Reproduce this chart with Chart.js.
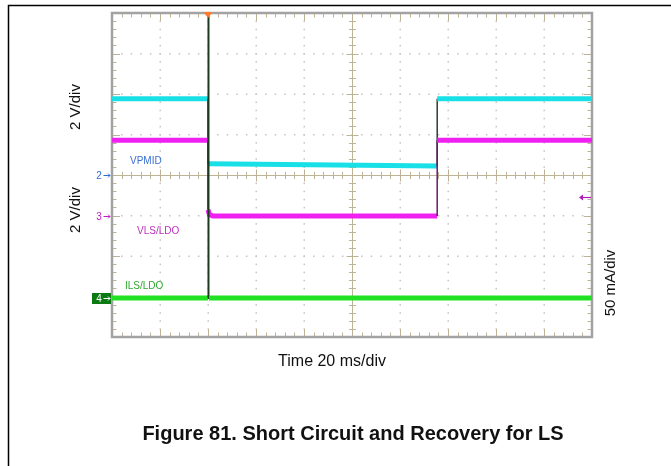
<!DOCTYPE html>
<html>
<head>
<meta charset="utf-8">
<script src="https://cdn.jsdelivr.net/npm/chart.js@4.4.0/dist/chart.umd.min.js"></script>
<style>
html, body { margin: 0; padding: 0; background: #fff; }
#wrap { position: relative; width: 671px; height: 466px; overflow: hidden; }
#scope { position: absolute; left: 0; top: 0; }
</style>
</head>
<body>
<div id="wrap"><canvas id="scope" width="671" height="466"></canvas></div>
<script>
// time in ms (20 ms/div, 10 div), vertical in screen divisions (8 div)
const timeRange = [0, 200];
const divRange = [0, 8];
const majorTime = [0, 20, 40, 60, 80, 100, 120, 140, 160, 180, 200];
const majorDiv = [0, 1, 2, 3, 4, 5, 6, 7, 8];

// traces
const vpmidTime = [0, 40, 40, 135.5, 135.5, 200];
const vpmidDiv = [5.88, 5.88, 4.28, 4.22, 5.88, 5.88];

const vlsldoTime = [0, 40, 40, 40.6, 42, 135.5, 135.5, 200];
const vlsldoDiv = [4.86, 4.86, 3.14, 3.02, 2.99, 2.99, 4.86, 4.86];

const ilsldoTime = [0, 40, 40, 40.4, 200];
const ilsldoDiv = [0.96, 0.96, 8, 0.96, 0.96];

// channel ground markers and labels
const markerNames = ['2', '3', '4'];
const markerDiv = [4, 3, 0.96];
const traceNames = ['VPMID', 'VLS/LDO', 'ILS/LDO'];
const triggerTime = 40;
const triggerLevelDiv = 3.46;

const pts = (xs, ys) => xs.map((x, i) => ({ x: x, y: ys[i] }));
const vert = c => Math.abs(c.p0.parsed.x - c.p1.parsed.x) < 0.5;

const scopeGrid = {
    id: 'scopeGrid',
    beforeDatasetsDraw(chart) {
        const g = chart.ctx, xs = chart.scales.x, ys = chart.scales.y, a = chart.chartArea;
        g.save();
        // page frame
        g.strokeStyle = '#000';
        g.lineWidth = 1.5;
        g.beginPath();
        g.moveTo(8.5, 466); g.lineTo(8.5, 5.5); g.lineTo(671, 5.5);
        g.stroke();

        // dotted graticule
        g.fillStyle = '#c4c4c4';
        majorDiv.forEach(d => {
            if (d === 0 || d === 8 || d === 4) return;
            const py = ys.getPixelForValue(d);
            for (let t = 4; t < 200; t += 4) g.fillRect(xs.getPixelForValue(t) - 0.5, py - 0.5, 1.5, 1.5);
        });
        majorTime.forEach(t => {
            if (t === 0 || t === 200 || t === 100) return;
            const px = xs.getPixelForValue(t);
            for (let d = 0.2; d < 7.99; d += 0.2) g.fillRect(px - 0.5, ys.getPixelForValue(d) - 0.5, 1.5, 1.5);
        });

        // centre cross and edge ticks
        g.strokeStyle = '#bdb395';
        g.lineWidth = 1;
        const cx = Math.round(xs.getPixelForValue(100)) + 0.5, cy = Math.round(ys.getPixelForValue(4)) + 0.5;
        g.beginPath();
        g.moveTo(cx, a.top); g.lineTo(cx, a.bottom);
        g.moveTo(a.left, cy); g.lineTo(a.right, cy);
        for (let i = 1; i < 50; i++) {
            const px = Math.round(xs.getPixelForValue(i * 4)) + 0.5;
            const major = i % 5 === 0;
            const c = major ? 6 : 3.5, e = major ? 8 : 4.5;
            g.moveTo(px, cy - c); g.lineTo(px, cy + c);
            g.moveTo(px, a.top); g.lineTo(px, a.top + e);
            g.moveTo(px, a.bottom); g.lineTo(px, a.bottom - e);
        }
        for (let i = 1; i < 40; i++) {
            const py = Math.round(ys.getPixelForValue(i * 0.2)) + 0.5;
            const major = i % 5 === 0;
            const c = major ? 6 : 3.5, e = major ? 8 : 4.5;
            g.moveTo(cx - c, py); g.lineTo(cx + c, py);
            g.moveTo(a.left, py); g.lineTo(a.left + e, py);
            g.moveTo(a.right, py); g.lineTo(a.right - e, py);
        }
        g.stroke();

        // screen frame
        g.strokeStyle = '#a2a2a2';
        g.lineWidth = 2.5;
        g.strokeRect(a.left, a.top, a.right - a.left, a.bottom - a.top);
        g.restore();
    },
    afterDatasetsDraw(chart) {
        const g = chart.ctx, xs = chart.scales.x, ys = chart.scales.y, a = chart.chartArea;
        g.save();
        // trigger position
        const tx = xs.getPixelForValue(triggerTime);
        g.fillStyle = '#ff7a2a';
        g.beginPath();
        g.moveTo(tx - 4.5, a.top - 1); g.lineTo(tx + 4.5, a.top - 1); g.lineTo(tx, a.top + 5);
        g.closePath(); g.fill();

        // channel markers
        const mCol = ['#2f6cd0', '#c020c0', '#0b7a12'];
        g.font = '10px "Liberation Sans", Arial, sans-serif';
        g.textBaseline = 'middle';
        markerNames.forEach((n, i) => {
            const py = Math.round(ys.getPixelForValue(markerDiv[i])) + 0.5;
            g.strokeStyle = i === 2 ? '#fff' : mCol[i];
            g.fillStyle = mCol[i];
            if (i === 2) {
                g.fillRect(92, py - 5.5, 19, 11);
                g.fillStyle = '#fff';
            }
            g.textAlign = 'center';
            g.fillText(n, 99, py + 0.5);
            g.lineWidth = 1;
            g.beginPath();
            g.moveTo(103.5, py); g.lineTo(110, py);
            g.moveTo(108, py - 2); g.lineTo(110, py); g.lineTo(108, py + 2);
            g.stroke();
        });

        // trigger level arrow (right edge)
        const ly = Math.round(ys.getPixelForValue(triggerLevelDiv)) + 0.5;
        g.strokeStyle = '#b020b0';
        g.fillStyle = '#b020b0';
        g.lineWidth = 1.2;
        g.beginPath();
        g.moveTo(580, ly); g.lineTo(591, ly); g.stroke();
        g.beginPath();
        g.moveTo(579, ly); g.lineTo(583, ly - 3); g.lineTo(583, ly + 3); g.closePath(); g.fill();

        // trace labels
        g.textAlign = 'left';
        g.font = '10px "Liberation Sans", Arial, sans-serif';
        g.fillStyle = '#3a6fd4'; g.fillText(traceNames[0], 130, 161);
        g.fillStyle = '#c030c0'; g.fillText(traceNames[1], 137, 231);
        g.fillStyle = '#2ea82e'; g.fillText(traceNames[2], 125, 286);

        // axis captions
        g.fillStyle = '#111';
        g.textAlign = 'center';
        g.font = '15px "Liberation Sans", Arial, sans-serif';
        const vtext = (s, x, y) => { g.save(); g.translate(x, y); g.rotate(-Math.PI / 2); g.fillText(s, 0, 0); g.restore(); };
        vtext('2 V/div', 76, 107);
        vtext('2 V/div', 76, 210);
        vtext('50 mA/div', 611, 283);
        g.font = '16px "Liberation Sans", Arial, sans-serif';
        g.fillText('Time 20 ms/div', 332, 362);
        g.font = 'bold 20px "Liberation Sans", Arial, sans-serif';
        g.fillText('Figure 81. Short Circuit and Recovery for LS', 353, 434);
        g.restore();
    }
};

new Chart(document.getElementById('scope'), {
    type: 'line',
    data: {
        datasets: [
            {
                label: traceNames[2], data: pts(ilsldoTime, ilsldoDiv),
                borderColor: '#22e022', borderWidth: 5,
                segment: { borderColor: c => vert(c) ? '#1c3a1f' : undefined, borderWidth: c => vert(c) ? 2 : undefined }
            },
            {
                label: traceNames[1], data: pts(vlsldoTime, vlsldoDiv),
                borderColor: '#f020f0', borderWidth: 5,
                segment: { borderColor: c => vert(c) ? '#6a1a6a' : undefined, borderWidth: c => vert(c) ? 1.5 : undefined }
            },
            {
                label: traceNames[0], data: pts(vpmidTime, vpmidDiv),
                borderColor: '#18e0e6', borderWidth: 5,
                segment: { borderColor: c => vert(c) ? '#2a3a3a' : undefined, borderWidth: c => vert(c) ? 1.5 : undefined }
            }
        ]
    },
    options: {
        responsive: false,
        animation: false,
        devicePixelRatio: 1,
        layout: { padding: { left: 112, top: 13, right: 79, bottom: 129 } },
        elements: { point: { radius: 0 }, line: { tension: 0, borderCapStyle: 'butt' } },
        plugins: { legend: { display: false }, tooltip: { enabled: false } },
        scales: {
            x: { type: 'linear', min: timeRange[0], max: timeRange[1], display: false },
            y: { type: 'linear', min: divRange[0], max: divRange[1], display: false }
        }
    },
    plugins: [scopeGrid]
});
</script>
</body>
</html>
